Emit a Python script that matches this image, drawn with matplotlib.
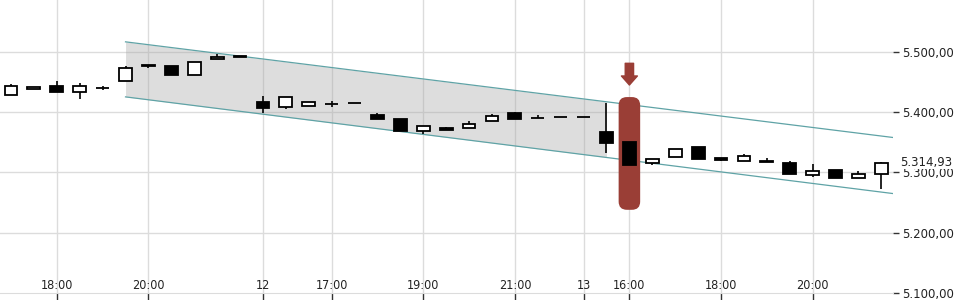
import numpy as np
import matplotlib
matplotlib.use("Agg")
from matplotlib import pyplot as plt
from matplotlib.patches import FancyBboxPatch
from matplotlib.ticker import FuncFormatter

# 30-minute candles
opens = [5428, 5438, 5444, 5433, 5440, 5451, 5478, 5477, 5461, 5488,
         5493, 5417, 5408, 5410, 5413, 5415.5, 5395, 5389, 5368, 5374,
         5373, 5385, 5399, 5391, 5392, 5392, 5367, 5351, 5315, 5325,
         5342, 5324, 5319, 5319, 5316, 5295, 5304, 5290, 5297]
highs = [5446, 5442, 5452, 5448, 5443, 5476, 5478, 5477, 5483, 5497,
         5493, 5427, 5425, 5417, 5419, 5415.5, 5399, 5389, 5377, 5376,
         5386, 5397, 5400, 5395, 5392, 5392, 5415, 5351, 5322, 5339,
         5342, 5324, 5331, 5324, 5319, 5314, 5304, 5302, 5317]
lows = [5428, 5438, 5434, 5421, 5436, 5451, 5473, 5462, 5461, 5488,
        5492, 5398, 5406, 5410, 5409, 5415, 5388, 5368, 5364, 5371,
        5373, 5385, 5389, 5390, 5392, 5392, 5333, 5313, 5313, 5325,
        5323, 5319, 5319, 5317, 5298, 5292, 5290, 5290, 5272]
closes = [5444, 5441, 5434, 5443, 5440.5, 5473, 5476, 5462, 5483, 5492,
          5492, 5407.5, 5425, 5417, 5413, 5415, 5388, 5368, 5377, 5371,
          5380.5, 5393, 5389, 5390.5, 5392, 5392, 5348, 5313, 5322, 5338.5,
          5323, 5321, 5327, 5317, 5298, 5302.5, 5290, 5298, 5314.93]

tick_pos = [2, 6, 11, 14, 18, 22, 25, 27, 31, 35]
tick_labels = ["18:00", "20:00", "12", "17:00", "19:00", "21:00", "13", "16:00", "18:00", "20:00"]
price_ticks = [5100, 5200, 5300, 5400, 5500]
last_price = 5314.93

# trend channel: (x, upper, lower) at the start and at the right edge
channel_x = [5, 38.5]
channel_upper = [5516.6, 5358]
channel_lower = [5425.3, 5265]
channel_fill_end = 26

# highlighted candle
marked = 27
mark_range = [5238, 5425]
arrow_range = [5481, 5445]

red = "#9a3e36"
teal = "#5fa3a6"


def fmt_price(v, pos=None):
    s = f"{v:,.2f}"
    return s.replace(",", "X").replace(".", ",").replace("X", ".")


def main():
    n = len(opens)
    x = np.arange(n)
    o = np.array(opens)
    c = np.array(closes)

    fig = plt.figure(figsize=(9.6, 3.0), dpi=100)
    ax = fig.add_axes([0.0, 0.0233, 0.930, 0.9767])
    ax.set_xlim(-0.48, 38.5)
    ax.set_ylim(5100, 5586)

    # grid
    for p in price_ticks[1:]:
        ax.axhline(p, color="#dcdcdc", lw=1, zorder=1)
    for t in tick_pos:
        ax.axvline(t, color="#dcdcdc", lw=1, zorder=1)

    # channel
    xs = np.array(channel_x)
    up = np.array(channel_upper)
    lo = np.array(channel_lower)
    xf = np.array([channel_x[0], channel_fill_end])
    ax.fill_between(xf, np.interp(xf, xs, up), np.interp(xf, xs, lo),
                    color="#a0a0a0", alpha=0.35, lw=0, zorder=2)
    ax.plot(xs, up, color=teal, lw=0.9, zorder=3)
    ax.plot(xs, lo, color=teal, lw=0.9, zorder=3)

    # highlight box + arrow
    aspect = (ax.bbox.width / 38.98) / (ax.bbox.height / 486.0)
    box = FancyBboxPatch((marked - 0.47, mark_range[0]), 0.94, mark_range[1] - mark_range[0],
                         boxstyle="round,pad=0,rounding_size=0.36", mutation_aspect=aspect,
                         facecolor=red, edgecolor="none", zorder=4)
    ax.add_patch(box)
    ax.annotate("", xy=(marked, arrow_range[1]), xytext=(marked, arrow_range[0]),
                arrowprops=dict(arrowstyle="simple,head_length=0.65,head_width=1.15,tail_width=0.6",
                                mutation_scale=10, color=red, shrinkA=0, shrinkB=0), zorder=4)

    # candles
    ax.vlines(x, lows, highs, color="black", lw=1.2, zorder=5)
    up_mask = c >= o
    bottoms = np.minimum(o, c)
    heights = np.maximum(np.abs(c - o), 0.3)
    ax.bar(x, heights, bottom=bottoms, width=0.56,
           color=np.where(up_mask, "white", "black"), edgecolor="black", lw=1.3, zorder=6)

    # axes styling
    for s in ["top", "left", "right"]:
        ax.spines[s].set_visible(False)
    ax.spines["bottom"].set_color("#dcdcdc")
    ax.set_xticks(tick_pos)
    ax.set_xticklabels([])
    ax.tick_params(axis="x", length=5, width=1, color="#333333", direction="out")
    for t, lab in zip(tick_pos, tick_labels):
        ax.text(t, 5101, lab, ha="center", va="bottom", fontsize=9, color="#222222",
                fontstretch="condensed", zorder=7)

    ax.yaxis.tick_right()
    ax.set_yticks(price_ticks)
    ax.yaxis.set_major_formatter(FuncFormatter(fmt_price))
    ax.tick_params(axis="y", length=4, width=1, pad=2.5, labelsize=8.5, color="#333333",
                   labelcolor="#222222")
    ax.text(1.0 + 7.5 / ax.bbox.width, last_price + 2, fmt_price(last_price),
            transform=ax.get_yaxis_transform(),
            ha="left", va="center", fontsize=8.5, color="#222222", clip_on=False,
            bbox=dict(boxstyle="square,pad=0.05", fc="white", ec="none"), zorder=8)

    fig.savefig("out.png", dpi=100)


if __name__ == "__main__":
    main()
